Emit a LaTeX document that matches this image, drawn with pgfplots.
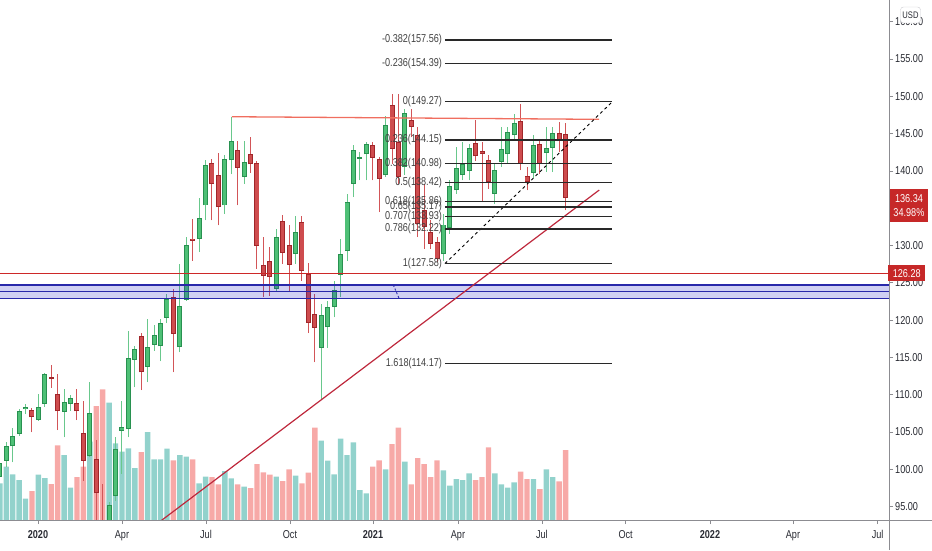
\documentclass[border=0pt]{standalone}
\usepackage{fontspec}
\usepackage{pgfplots}
\usepackage{pgfplotstable}
\pgfplotsset{compat=1.18}
\newfontfamily\tvfont{Liberation Sans}[FakeStretch=0.8]

\definecolor{axisgray}{RGB}{140,140,145}
\definecolor{labelgray}{RGB}{40,42,50}
\definecolor{gfill}{RGB}{78,192,118}
\definecolor{gborder}{RGB}{40,145,80}
\definecolor{gwick}{RGB}{105,200,140}
\definecolor{rfill}{RGB}{206,76,78}
\definecolor{rborder}{RGB}{160,38,42}
\definecolor{rwick}{RGB}{210,85,88}
\definecolor{volg}{RGB}{146,210,204}
\definecolor{volr}{RGB}{247,169,167}
\definecolor{line126}{RGB}{205,40,40}
\definecolor{resist}{RGB}{240,110,95}
\definecolor{trend}{RGB}{190,40,60}
\definecolor{zonefill}{RGB}{40,40,200}
\definecolor{zoneline}{RGB}{40,40,170}
\definecolor{fibline}{RGB}{40,40,40}
\definecolor{fibtext}{RGB}{65,65,65}
\definecolor{boxred}{RGB}{198,40,40}
\definecolor{usdgray}{RGB}{205,205,210}

\pgfplotstableread{
i o h l c v
0 98.91 101.3 98.3 100.79 110
1 101.14 103.6 100.25 103.07 160
2 103.07 105.53 100.92 104.50 137
3 104.72 108.08 104.5 107.86 120
4 108.08 108.75 107.4 108.35 64
6 106.65 110.09 106.5 108.39 136
7 108.75 112.9 108.4 112.78 126
10 107.72 110.76 104.28 108.97 195
11 108.75 110.0 107.86 109.56 97
14 101.82 111.75 101.6 107.5 235
17 85 95.6 83 95.24 352
18 96.44 104.28 95.78 102.72 230
19 105.17 109.2 99.43 105.62 205
20 105.39 118.59 104.28 114.92 215
21 114.66 116.58 110.99 116.13 156
23 113.76 120.16 111.66 116.45 264
24 116.67 119.4 115.91 118.06 182
25 116.49 120.16 114.48 119.62 182
26 120.29 123.52 119.6 122.85 214
28 116.36 127.54 115.69 121.86 195
29 122.71 131.21 122.6 130.09 190
31 130.90 136.40 129.11 133.72 110
32 135.37 141.41 133.36 140.74 130
35 135.37 142.08 134.25 141.64 147
36 141.41 147.23 139.53 143.96 125
38 139.18 144.01 138.28 141.19 100
43 124.19 132.24 123.96 131.12 130
46 128.88 133.90 127.54 131.79 133
50 116.27 122.17 109.27 120.74 238
51 119.04 122.62 116.27 121.73 178
52 121.73 125.3 120.38 124.06 137
53 126.1 130.83 123.07 128.82 244
54 129.24 136.94 127.99 135.82 195
55 138.28 143.43 136.49 142.75 233
56 141.59 142.53 138.73 141.82 90
57 142.22 143.87 138.73 143.56 80
60 139.4 147.32 139.18 146.11 152
63 140.52 148.35 139.5 147.81 175
69 128.82 134.25 127.99 132.82 149
70 132.37 138.73 131.57 137.92 103
71 137.39 143.2 136.94 140.43 123
72 139.4 143.87 138.73 140.97 120
73 139.98 143.65 138.73 143.11 140
77 136.94 140.97 135.6 140.16 140
78 141.19 145.89 140.52 142.98 107
79 142.22 145.89 140.97 145.22 97
80 144.77 147.68 144.1 146.47 113
83 139.71 144.77 139.0 143.43 123
85 142.4 145.89 139.85 143.11 152
86 143.11 145.89 139.85 145.08 129
}\upcandles

\pgfplotstableread{
i o h l c v
5 107.99 108.2 104.95 106.96 87
8 112.37 113.98 110.9 112.11 108
9 110.09 112.78 105.26 107.77 224
12 108.93 110.76 106.6 107.77 129
13 104.86 109.2 98.46 101.14 160
15 101.37 103.92 92.0 96.76 342
16 92.5 98.02 85.0 88.0 392
22 117.92 118.28 110.63 113.0 204
27 123.16 124.19 113.0 118.15 179
30 130.94 133.58 127.99 130.67 182
33 141.05 141.64 133.36 138.19 129
34 139.44 142.40 132.69 135.15 107
37 142.75 144.01 135.37 140.43 107
39 142.22 144.54 139.76 140.88 96
40 141.05 141.3 126.87 130.0 168
41 127.45 131.12 123.07 125.89 143
42 127.86 129.78 123.29 125.75 136
44 133.27 134.03 127.54 128.97 117
45 130.09 132.82 123.96 127.41 152
47 133.13 133.90 125.3 126.65 110
48 126.20 127.63 118.24 119.58 142
49 120.83 123.52 114.34 118.95 277
58 143.43 143.87 138.73 141.77 160
59 141.55 141.86 134.48 138.95 179
61 148.79 150.27 140.97 142.98 228
62 143.87 150.27 138.28 139.18 277
64 146.87 148.35 144.5 145.89 107
65 144.77 145.89 131.12 132.91 186
66 134.7 138.28 129.56 132.47 168
67 131.79 133.36 129.56 130.22 129
68 130.45 131.12 127.77 128.21 179
74 143.74 146.78 141.3 141.95 120
75 142.67 143.87 135.82 142.31 129
76 141.5 142.08 137.61 138.5 218
81 146.65 149.02 140.07 140.97 145
82 139.27 140.52 137.39 138.5 123
84 143.56 144.1 139.6 140.88 93
87 145.08 146.56 142.5 143.96 116
88 144.99 146.42 134.70 136.34 210
}\downcandles

\pgfplotsset{
  tvaxis/.style={at={(0pt,30pt)}, anchor=south west, scale only axis,
    width=889pt, height=520pt, xmin=0.03, xmax=138.3},
  candle/.style 2 args={draw=none, mark=none, forget plot,
    error bars/.cd, y dir=plus, y explicit, error mark=none,
    error bar style={draw=#1, line width=#2}},
}

\begin{document}
\begin{tikzpicture}[x=1pt,y=1pt]
\path[use as bounding box] (0,0) rectangle (932,550);

% volume
\begin{axis}[tvaxis, ymin=0, ymax=1560, axis lines=none, ticks=none]
\addplot[ybar, bar width=5.4pt, bar shift=0pt, fill=volg, draw=none] table[x=i,y=v]{\upcandles};
\addplot[ybar, bar width=5.4pt, bar shift=0pt, fill=volr, draw=none] table[x=i,y=v]{\downcandles};
\end{axis}

% price
\begin{axis}[tvaxis, ymin=93.2, ymax=162.92,
  axis line style={draw=none},
  xtick pos=left, ytick pos=right, xticklabel pos=left, yticklabel pos=right,
  tick align=outside, major tick length=4pt,
  tick style={draw=axisgray, line width=0.8pt},
  ytick={95,100,105,110,115,120,125,130,140,145,150,155,160},
  yticklabels={95.00,100.00,105.00,110.00,115.00,120.00,125.00,130.00,140.00,145.00,150.00,155.00,160.00},
  xtick={5.94,19.0,32.07,45.13,58.04,71.26,84.32,97.34,110.45,123.36,136.53},
  xticklabels={\textbf{2020},Apr,Jul,Oct,\textbf{2021},Apr,Jul,Oct,\textbf{2022},Apr,Jul},
  yticklabel style={font=\tvfont\fontsize{11.4}{13}\selectfont, text=labelgray, anchor=west, inner sep=0pt, xshift=2pt},
  xticklabel style={font=\tvfont\fontsize{11.4}{13}\selectfont, text=labelgray, anchor=base, inner sep=0pt, yshift=-14pt},
]
% wicks
\addplot[candle={gwick}{1pt}] table[x=i, y=l, y error plus expr=\thisrow{h}-\thisrow{l}]{\upcandles};
\addplot[candle={rwick}{1pt}] table[x=i, y=l, y error plus expr=\thisrow{h}-\thisrow{l}]{\downcandles};
% bodies (border)
\addplot[candle={gborder}{5pt}] table[x=i, y=o, y error plus expr={max(\thisrow{c}-\thisrow{o},0.27)}]{\upcandles};
\addplot[candle={rborder}{5pt}] table[x=i, y=c, y error plus expr={max(\thisrow{o}-\thisrow{c},0.27)}]{\downcandles};
% bodies (fill)
\addplot[candle={gfill}{3.1pt}] table[x=i, y expr=\thisrow{o}+0.13, y error plus expr={max(\thisrow{c}-\thisrow{o}-0.26,0)}]{\upcandles};
\addplot[candle={rfill}{3.1pt}] table[x=i, y expr=\thisrow{c}+0.13, y error plus expr={max(\thisrow{o}-\thisrow{c}-0.26,0)}]{\downcandles};

% support zone
\addplot[fill=zonefill, fill opacity=0.22, draw=none, forget plot] coordinates {(0,122.92) (140,122.92) (140,124.71) (0,124.71) (0,122.92)};
\addplot[zoneline, line width=1.2pt] coordinates {(0,124.71) (140,124.71)};
\addplot[zoneline, line width=1.2pt] coordinates {(0,123.81) (140,123.81)};
\addplot[zoneline, line width=1.2pt] coordinates {(0,122.92) (140,122.92)};
\addplot[zoneline, line width=0.9pt, dash pattern=on 2pt off 2pt] coordinates {(61.2,124.71) (62.1,122.92)};

% horizontal lines
\addplot[line126, line width=1.1pt] coordinates {(0,126.28) (140,126.28)};
\addplot[resist, line width=1.3pt] coordinates {(36.1,147.27) (93.2,146.92)};
% rising trend line
\addplot[trend, line width=1.2pt] coordinates {(24.0,92.4) (93.23,137.44)};

% fibonacci
\addplot[black, line width=0.9pt, dash pattern=on 3pt off 3pt] coordinates {(69.24,127.58) (95.26,149.27)};
\addplot[fibline, line width=1.2pt] coordinates {(69.24,157.56) (95.26,157.56)};
\addplot[fibline, line width=1.2pt] coordinates {(69.24,154.39) (95.26,154.39)};
\addplot[fibline, line width=1.2pt] coordinates {(69.24,149.27) (95.26,149.27)};
\addplot[fibline, line width=1.2pt] coordinates {(69.24,144.15) (95.26,144.15)};
\addplot[fibline, line width=1.2pt] coordinates {(69.24,140.98) (95.26,140.98)};
\addplot[fibline, line width=1.2pt] coordinates {(69.24,138.42) (95.26,138.42)};
\addplot[fibline, line width=1.2pt] coordinates {(69.24,135.86) (95.26,135.86)};
\addplot[fibline, line width=1.2pt] coordinates {(69.24,135.17) (95.26,135.17)};
\addplot[fibline, line width=1.2pt] coordinates {(69.24,133.93) (95.26,133.93)};
\addplot[fibline, line width=1.2pt] coordinates {(69.24,132.22) (95.26,132.22)};
\addplot[fibline, line width=1.2pt] coordinates {(69.24,127.58) (95.26,127.58)};
\addplot[fibline, line width=1.2pt] coordinates {(69.24,114.17) (95.26,114.17)};

\begin{scope}[every node/.style={anchor=east, inner sep=0pt, text=fibtext, font=\tvfont\fontsize{11.4}{13}\selectfont}]
\node at (axis cs:68.8,157.56) {-0.382(157.56)};
\node at (axis cs:68.8,154.39) {-0.236(154.39)};
\node at (axis cs:68.8,149.27) {0(149.27)};
\node at (axis cs:68.8,144.15) {0.236(144.15)};
\node at (axis cs:68.8,140.98) {0.382(140.98)};
\node at (axis cs:68.8,138.42) {0.5(138.42)};
\node at (axis cs:68.8,135.86) {0.618(135.86)};
\node at (axis cs:68.8,135.17) {0.65(135.17)};
\node at (axis cs:68.8,133.93) {0.707(133.93)};
\node at (axis cs:68.8,132.22) {0.786(132.22)};
\node at (axis cs:68.8,127.58) {1(127.58)};
\node at (axis cs:68.8,114.17) {1.618(114.17)};
\end{scope}

\coordinate (P136) at (axis cs:138.3,136.34);
\coordinate (P126) at (axis cs:138.3,126.28);
\coordinate (P160) at (axis cs:138.3,160);
\end{axis}

% axis lines
\draw[axisgray, line width=1pt] (current axis.south west) -- ([xshift=43pt]current axis.south east);
\draw[axisgray, line width=1pt] ([yshift=-30pt]current axis.south east) -- (current axis.north east);

% price boxes
\node[fill=boxred, text=white, anchor=north west, inner sep=0pt, minimum width=38.5pt, minimum height=33pt, align=center, font=\tvfont\fontsize{11.4}{14.3}\selectfont] at ([xshift=0.5pt, yshift=9.6pt]P136) {136.34\\34.98\%};
\node[fill=boxred, text=white, anchor=west, inner sep=0pt, minimum width=37pt, minimum height=16pt, font=\tvfont\fontsize{11.4}{13}\selectfont] at ([xshift=-1pt]P126) {126.28};
\node[draw=usdgray, fill=white, rounded corners=3pt, minimum width=20pt, minimum height=16pt, inner sep=0pt, text=labelgray, font=\tvfont\fontsize{9.5}{11}\selectfont] at ([xshift=21.5pt, yshift=6.8pt]P160) {USD};
\end{tikzpicture}
\end{document}
